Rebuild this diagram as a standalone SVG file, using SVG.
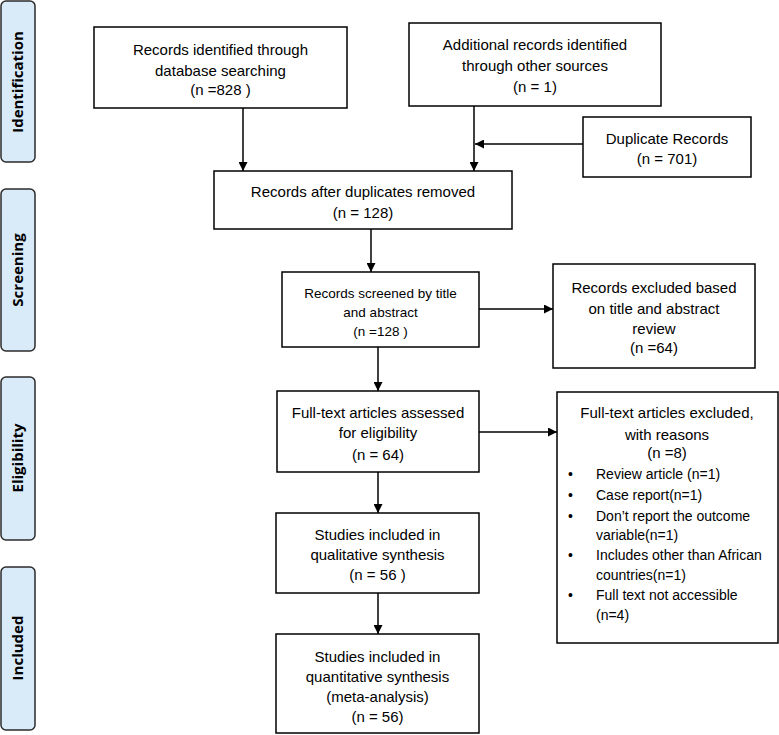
<svg xmlns="http://www.w3.org/2000/svg" width="779" height="735" viewBox="0 0 779 735">
<style>
.bg{fill:#ffffff}
.box{fill:#ffffff;stroke:#000;stroke-width:1.5}
.side{fill:#d9ebf9;stroke:#2b2b2b;stroke-width:1.5}
.t{font-family:"Liberation Sans",Arial,sans-serif;font-size:15px;fill:#000;text-anchor:middle}
.s{font-size:13.5px}
.l{font-family:"Liberation Sans",Arial,sans-serif;font-size:14px;fill:#000}
.lab{font-family:"Open Sans","Liberation Sans",sans-serif;font-size:15px;font-weight:bold;fill:#000;text-anchor:middle}
.c{fill:none;stroke:#000;stroke-width:1.5}
</style>
<defs>
<marker id="ah" viewBox="0 0 10 10" refX="10" refY="5" markerWidth="9" markerHeight="9" markerUnits="userSpaceOnUse" orient="auto">
<path d="M0,0 L10,5 L0,10 z" fill="#000"/>
</marker>
</defs>
<rect class="bg" x="0" y="0" width="779" height="735"/>

<g id="phase-identification">
<rect class="side" x="1" y="1" width="34" height="161" rx="5"/>
<text class="lab" transform="translate(23,82) rotate(-90)">Identification</text>
</g>
<g id="phase-screening">
<rect class="side" x="1" y="189" width="34" height="162" rx="5"/>
<text class="lab" transform="translate(23,270) rotate(-90)">Screening</text>
</g>
<g id="phase-eligibility">
<rect class="side" x="1" y="377" width="34" height="163" rx="5"/>
<text class="lab" transform="translate(23,458) rotate(-90)">Eligibility</text>
</g>
<g id="phase-included">
<rect class="side" x="1" y="567" width="34" height="163" rx="5"/>
<text class="lab" transform="translate(23,648) rotate(-90)">Included</text>
</g>

<g id="connectors">
<path class="c" d="M243,108 V171" marker-end="url(#ah)"/>
<path class="c" d="M474,106 V171" marker-end="url(#ah)"/>
<path class="c" d="M583,144 H475" marker-end="url(#ah)"/>
<path class="c" d="M371,229 V272" marker-end="url(#ah)"/>
<path class="c" d="M479,309 H553" marker-end="url(#ah)"/>
<path class="c" d="M378,347 V391" marker-end="url(#ah)"/>
<path class="c" d="M479,432 H557" marker-end="url(#ah)"/>
<path class="c" d="M378,472 V513" marker-end="url(#ah)"/>
<path class="c" d="M378,593 V634" marker-end="url(#ah)"/>
</g>

<g id="db-search">
<rect class="box" x="94" y="27" width="253" height="81"/>
<text class="t" x="220.5" y="55">Records identified through</text>
<text class="t" x="220.5" y="76">database searching</text>
<text class="t" x="220.5" y="95">(n =828 )</text>
</g>

<g id="other-sources">
<rect class="box" x="409" y="23" width="252" height="83"/>
<text class="t" x="535" y="50">Additional records identified</text>
<text class="t" x="535" y="71">through other sources</text>
<text class="t" x="535" y="92">(n = 1)</text>
</g>

<g id="duplicates">
<rect class="box" x="583" y="117" width="168" height="60"/>
<text class="t" x="667" y="144">Duplicate Records</text>
<text class="t" x="667" y="164">(n = 701)</text>
</g>

<g id="after-dup">
<rect class="box" x="214" y="171" width="298" height="58"/>
<text class="t" x="363" y="197">Records after duplicates removed</text>
<text class="t" x="363" y="218">(n = 128)</text>
</g>

<g id="screened">
<rect class="box" x="282" y="272" width="197" height="75"/>
<text class="t s" x="380.5" y="298">Records screened by title</text>
<text class="t s" x="380.5" y="317">and abstract</text>
<text class="t s" x="380.5" y="336">(n =128 )</text>
</g>

<g id="excluded-title">
<rect class="box" x="553" y="264" width="202" height="104"/>
<text class="t" x="654" y="293">Records excluded based</text>
<text class="t" x="654" y="314">on title and abstract</text>
<text class="t" x="654" y="334">review</text>
<text class="t" x="654" y="353">(n =64)</text>
</g>

<g id="fulltext">
<rect class="box" x="277" y="391" width="202" height="81"/>
<text class="t" x="378" y="418">Full-text articles assessed</text>
<text class="t" x="378" y="438">for eligibility</text>
<text class="t" x="378" y="460">(n = 64)</text>
</g>

<g id="excluded-fulltext">
<rect class="box" x="557" y="392" width="221" height="251"/>
<text class="t" x="667" y="418">Full-text articles excluded,</text>
<text class="t" x="667" y="440">with reasons</text>
<text class="t" x="667" y="458">(n =8)</text>
<text class="l" x="568" y="479">•</text>
<text class="l" x="596" y="479">Review article (n=1)</text>
<text class="l" x="568" y="500">•</text>
<text class="l" x="596" y="500">Case report(n=1)</text>
<text class="l" x="568" y="521">•</text>
<text class="l" x="596" y="521">Don’t report the outcome</text>
<text class="l" x="596" y="540">variable(n=1)</text>
<text class="l" x="568" y="560">•</text>
<text class="l" x="596" y="560">Includes other than African</text>
<text class="l" x="596" y="580">countries(n=1)</text>
<text class="l" x="568" y="600">•</text>
<text class="l" x="596" y="600">Full text not accessible</text>
<text class="l" x="596" y="620">(n=4)</text>
</g>

<g id="qualitative">
<rect class="box" x="276" y="513" width="203" height="80"/>
<text class="t" x="377.5" y="540">Studies included in</text>
<text class="t" x="377.5" y="560">qualitative synthesis</text>
<text class="t" x="377.5" y="580">(n = 56 )</text>
</g>

<g id="quantitative">
<rect class="box" x="276" y="634" width="203" height="99"/>
<text class="t" x="377.5" y="662">Studies included in</text>
<text class="t" x="377.5" y="682">quantitative synthesis</text>
<text class="t" x="377.5" y="702">(meta-analysis)</text>
<text class="t" x="377.5" y="722">(n = 56)</text>
</g>
</svg>
